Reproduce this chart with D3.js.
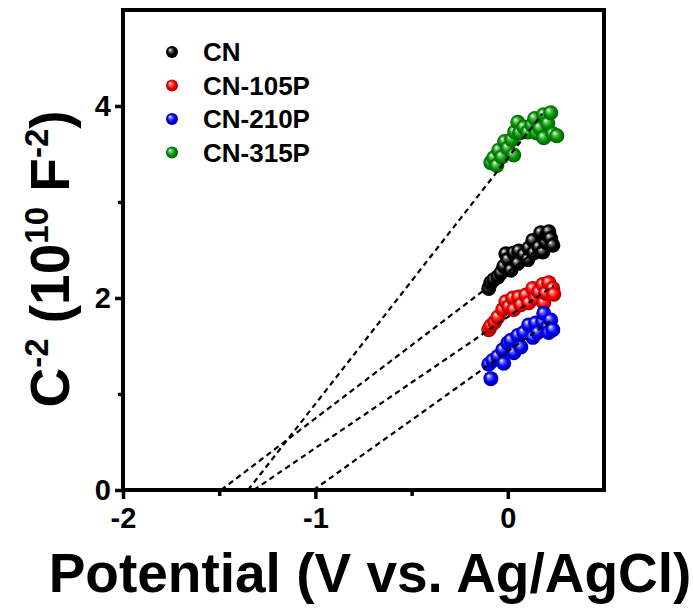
<!DOCTYPE html>
<html>
  <head>
    <meta charset="utf-8">
    <style>
    body {
      margin: 0;
      background: #fff;
    }
    text {
      font-family: "Liberation Sans", Arial, sans-serif;
      font-weight: bold;
    }
    </style>
  </head>
  <body>
    <script src="https://cdn.jsdelivr.net/npm/d3@7"></script>
    <script>
    var width = 693,
      height = 608;

    // series names + colours
    var seriesNames = ["CN", "CN-105P", "CN-210P", "CN-315P"];
    var seriesColors = ["#000000", "#ff0000", "#0000ff", "#009900"];

    // Mott-Schottky points: [potential, C^-2]
    var cnPoints = [[-0.099, 2.10], [-0.088, 2.16], [-0.073, 2.19], [-0.052, 2.22], [-0.036, 2.26],
      [-0.021, 2.33], [-0.010, 2.46], [0.000, 2.40], [0.016, 2.29], [0.031, 2.47], [0.052, 2.36],
      [0.057, 2.49], [0.083, 2.45], [0.104, 2.40], [0.109, 2.52], [0.130, 2.60], [0.135, 2.47],
      [0.161, 2.53], [0.171, 2.68], [0.182, 2.48], [0.197, 2.58], [0.203, 2.66], [0.213, 2.69],
      [0.223, 2.62], [0.234, 2.55]];
    var cn105Points = [[-0.099, 1.67], [-0.088, 1.71], [-0.068, 1.75], [-0.052, 1.80], [-0.026, 1.88],
      [-0.010, 1.96], [0.005, 1.91], [0.026, 2.00], [0.031, 1.88], [0.057, 2.01], [0.068, 1.93],
      [0.094, 2.03], [0.109, 1.95], [0.130, 2.10], [0.145, 2.00], [0.161, 2.06], [0.182, 2.14],
      [0.187, 1.95], [0.197, 2.05], [0.213, 2.16], [0.234, 2.10], [0.239, 2.04]];
    var cn210Points = [[-0.088, 1.16], [-0.099, 1.31], [-0.078, 1.35], [-0.052, 1.39], [-0.021, 1.32],
      [-0.026, 1.46], [0.000, 1.53], [0.016, 1.56], [0.031, 1.43], [0.052, 1.61], [0.068, 1.49],
      [0.083, 1.64], [0.109, 1.72], [0.130, 1.59], [0.145, 1.74], [0.156, 1.64], [0.182, 1.75],
      [0.187, 1.84], [0.208, 1.70], [0.213, 1.64], [0.223, 1.77], [0.234, 1.67]];
    var cn315Points = [[-0.088, 3.41], [-0.073, 3.46], [-0.057, 3.38], [-0.047, 3.54], [-0.031, 3.47],
      [-0.016, 3.63], [0.000, 3.56], [0.021, 3.65], [0.031, 3.49], [0.036, 3.73], [0.052, 3.83],
      [0.062, 3.72], [0.083, 3.78], [0.104, 3.73], [0.125, 3.80], [0.140, 3.87], [0.150, 3.72],
      [0.166, 3.77], [0.187, 3.67], [0.187, 3.91], [0.208, 3.82], [0.223, 3.93], [0.234, 3.71],
      [0.255, 3.69]];

    // linear fits: x-intercept and end point of the dashed line
    var fitIntercepts = [-1.49, -1.32, -1.01, -1.35];
    var fitEnds = [[0.23, 2.62], [0.24, 2.13], [0.235, 1.78], [0.18, 3.92]];

    var xTicks = [-2, -1, 0];
    var xMinorTicks = [-1.5, -0.5];
    var yTicks = [0, 2, 4];
    var yMinorTicks = [1, 3];

    var allPoints = [cnPoints, cn105Points, cn210Points, cn315Points];

    var x = d3.scaleLinear().domain([-2, 0.5]).range([123, 604]);
    var y = d3.scaleLinear().domain([0, 5]).range([490, 10]);

    var svg = d3.select("body").append("svg")
        .attr("width", width)
        .attr("height", height);

    // sphere gradients
    var defs = svg.append("defs");
    seriesColors.forEach(function(c, i) {
      var g = defs.append("radialGradient")
        .attr("id", "ball" + i)
        .attr("cx", "0.5").attr("cy", "0.5").attr("r", "0.5")
        .attr("fx", "0.32").attr("fy", "0.3");
      g.append("stop").attr("offset", "0").attr("stop-color", "#fff");
      g.append("stop").attr("offset", "0.28").attr("stop-color", d3.interpolateRgb("#fff", c)(0.6));
      g.append("stop").attr("offset", "0.6").attr("stop-color", c);
      g.append("stop").attr("offset", "1").attr("stop-color", d3.color(c).darker(1.4));
    });

    // points
    allPoints.forEach(function(pts, i) {
      svg.append("g").selectAll("circle")
        .data(pts)
        .enter().append("circle")
          .attr("cx", function(d) { return x(d[0]); })
          .attr("cy", function(d) { return y(d[1]); })
          .attr("r", 7.5)
          .attr("fill", "url(#ball" + i + ")");
    });

    // dashed fit lines
    svg.append("g").selectAll("line")
      .data(fitIntercepts)
      .enter().append("line")
        .attr("x1", function(d) { return x(d); })
        .attr("y1", y(0))
        .attr("x2", function(d, i) { return x(fitEnds[i][0]); })
        .attr("y2", function(d, i) { return y(fitEnds[i][1]); })
        .attr("stroke", "#000")
        .attr("stroke-width", 2.2)
        .attr("stroke-dasharray", "5.5,4");

    // frame
    svg.append("rect")
      .attr("x", x(-2)).attr("y", y(5))
      .attr("width", x(0.5) - x(-2)).attr("height", y(0) - y(5))
      .attr("fill", "none")
      .attr("stroke", "#000")
      .attr("stroke-width", 4);

    // axes
    var xAxis = svg.append("g")
      .attr("transform", "translate(0," + y(0) + ")")
      .call(d3.axisBottom(x).tickValues(xTicks).tickSize(9).tickPadding(4)
        .tickFormat(function(d) { return d === 0 ? "0" : "-" + Math.abs(d); }));
    svg.append("g")
      .attr("transform", "translate(0," + y(0) + ")")
      .call(d3.axisBottom(x).tickValues(xMinorTicks).tickSize(6).tickFormat(""));
    var yAxis = svg.append("g")
      .attr("transform", "translate(" + x(-2) + ",0)")
      .call(d3.axisLeft(y).tickValues(yTicks).tickSize(8).tickPadding(4).tickFormat(d3.format("d")));
    svg.append("g")
      .attr("transform", "translate(" + x(-2) + ",0)")
      .call(d3.axisLeft(y).tickValues(yMinorTicks).tickSize(5).tickFormat(""));

    svg.selectAll(".domain").remove();
    svg.selectAll(".tick line").attr("stroke", "#000").attr("stroke-width", 3.5);
    xAxis.selectAll(".tick text").attr("font-size", 29).attr("fill", "#000").attr("dy", "0.85em");
    yAxis.selectAll(".tick text").attr("font-size", 29).attr("fill", "#000");

    // axis titles
    svg.append("text")
      .attr("x", 370).attr("y", 592)
      .attr("text-anchor", "middle")
      .attr("font-size", 55)
      .text("Potential (V vs. Ag/AgCl)");

    var yt = svg.append("text")
      .attr("transform", "translate(69,259) rotate(-90)")
      .attr("text-anchor", "middle")
      .attr("font-size", 55);
    yt.append("tspan").text("C");
    yt.append("tspan").attr("font-size", 33).attr("dy", -21).text("-2");
    yt.append("tspan").attr("dy", 21).text(" (1");
    yt.append("tspan").text("0");
    yt.append("tspan").attr("font-size", 33).attr("dy", -21).text("10");
    yt.append("tspan").attr("dy", 21).text(" F");
    yt.append("tspan").attr("font-size", 33).attr("dy", -21).text("-2");
    yt.append("tspan").attr("dy", 21).text(")");

    // legend
    var legend = svg.append("g").selectAll("g")
      .data(seriesNames)
      .enter().append("g")
        .attr("transform", function(d, i) { return "translate(172," + (52 + i * 33.5) + ")"; });
    legend.append("circle")
      .attr("r", 6)
      .attr("fill", function(d, i) { return "url(#ball" + i + ")"; });
    legend.append("text")
      .attr("x", 31)
      .attr("dy", "0.36em")
      .attr("font-size", 26)
      .text(function(d) { return d; });
    </script>
  </body>
</html>
